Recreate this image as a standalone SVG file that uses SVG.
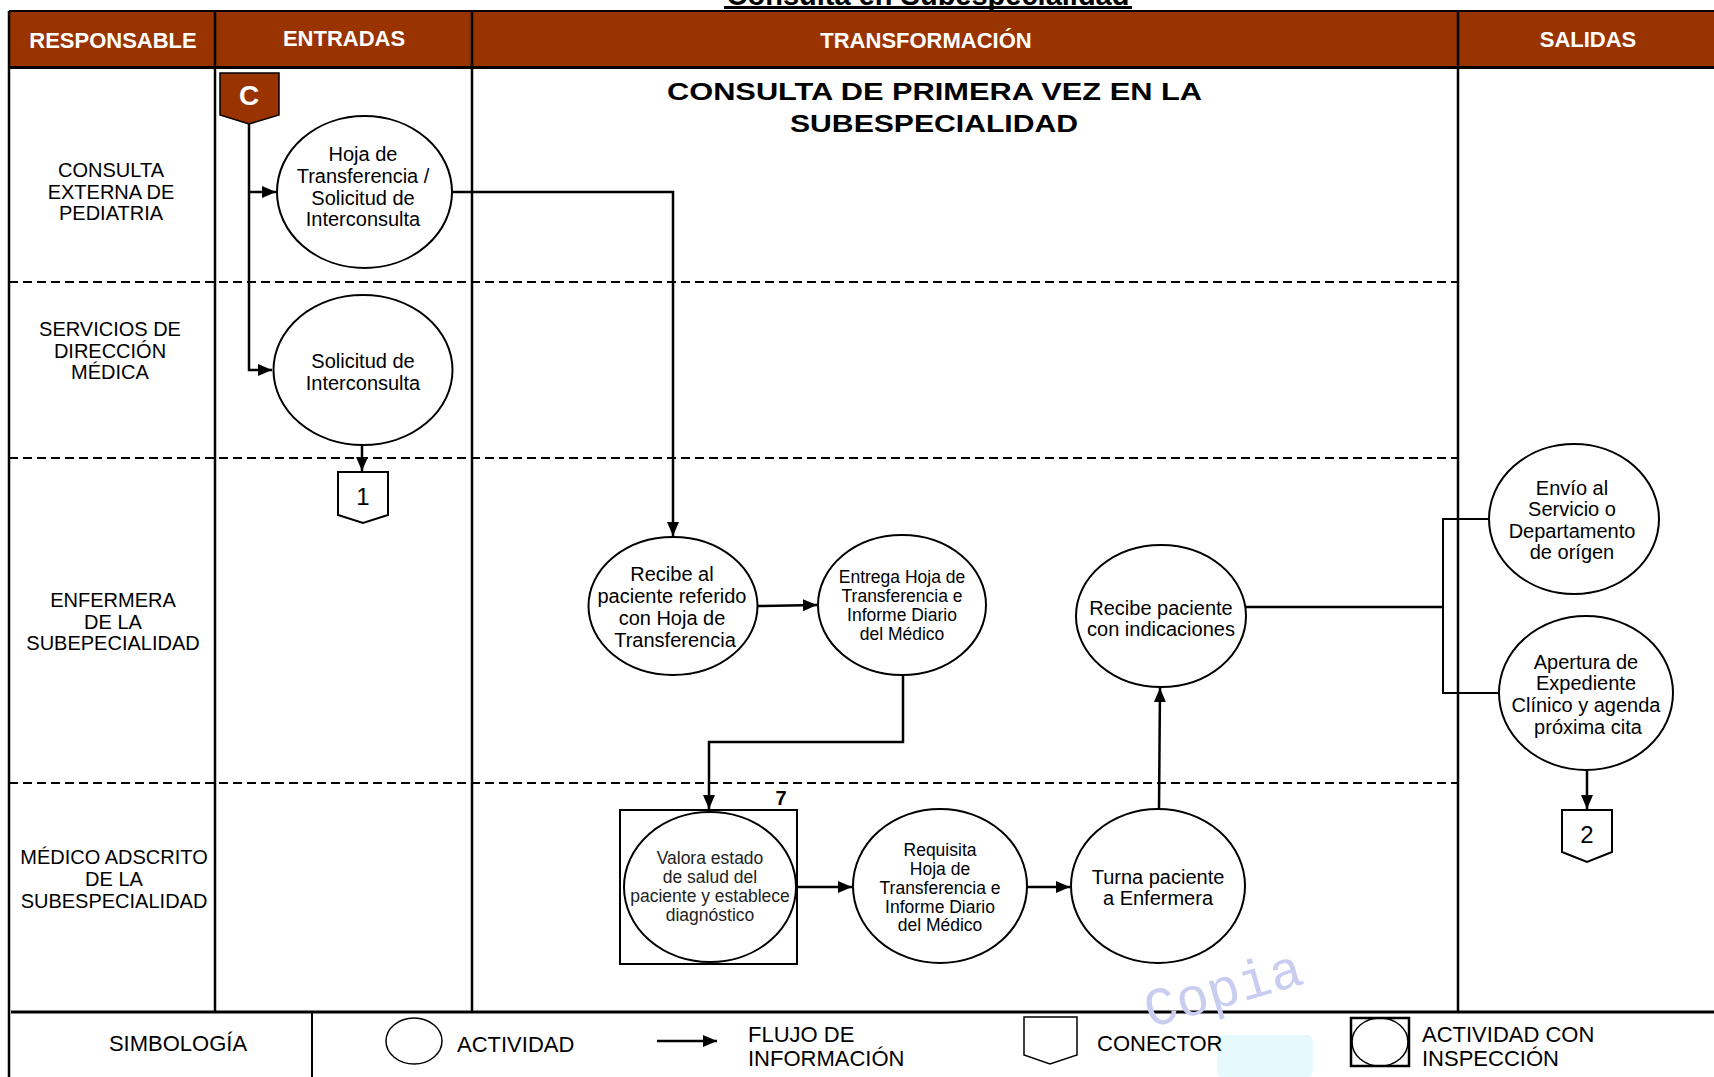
<svg xmlns="http://www.w3.org/2000/svg" width="1714" height="1077" viewBox="0 0 1714 1077">
<defs>
<marker id="arr" markerUnits="userSpaceOnUse" markerWidth="15" markerHeight="13" refX="14" refY="6" orient="auto">
<path d="M0,0 L14,6 L0,12 z" fill="#000"/>
</marker>
<style>
text{font-family:"Liberation Sans",Arial,sans-serif;fill:#000}
.hd{font-size:22px;font-weight:bold;fill:#fff;text-anchor:middle}
.lane{font-size:20px;text-anchor:middle}
.t20{font-size:20px;text-anchor:middle}
.t17{font-size:17.5px;text-anchor:middle}
.node{fill:#fff;stroke:#000;stroke-width:2}
.grid{stroke:#000;stroke-width:2.5;fill:none}
.dash{stroke:#000;stroke-width:2;stroke-dasharray:9,5;fill:none}
.conn{stroke:#000;stroke-width:2.5;fill:none}
.thin{stroke:#000;stroke-width:2;fill:none}
.leg{font-size:22px}
.wm{font-family:"Liberation Mono","Courier New",monospace;font-size:54px;fill:#c9cdf0}
</style>
</defs>
<rect width="1714" height="1077" fill="#fff"/>

<g id="page-title">
<text x="928" y="5" font-size="29" font-weight="bold" text-anchor="middle">Consulta en Subespecialidad</text>
<rect x="724" y="6" width="408" height="3" fill="#000"/>
</g>

<g id="frame">
<rect x="9" y="11" width="1705" height="57" fill="#993300"/>
<line x1="9" y1="11" x2="1714" y2="11" stroke="#000" stroke-width="2"/>
<line x1="9" y1="67.5" x2="1714" y2="67.5" stroke="#000" stroke-width="3"/>
<line x1="9" y1="11" x2="9" y2="1077" class="grid" stroke-width="3"/>
<line x1="215" y1="11" x2="215" y2="1012" class="grid"/>
<line x1="472" y1="11" x2="472" y2="1012" class="grid"/>
<line x1="1458" y1="11" x2="1458" y2="1012" class="grid"/>
<line x1="9" y1="282" x2="1458" y2="282" class="dash"/>
<line x1="9" y1="458" x2="1458" y2="458" class="dash"/>
<line x1="9" y1="783" x2="1458" y2="783" class="dash"/>
<line x1="11" y1="1012" x2="1714" y2="1012" stroke="#000" stroke-width="3"/>
<line x1="312" y1="1012" x2="312" y2="1077" class="thin"/>
<text class="hd" x="113" y="48">RESPONSABLE</text>
<text class="hd" x="344" y="46">ENTRADAS</text>
<text class="hd" x="926" y="48">TRANSFORMACIÓN</text>
<text class="hd" x="1588" y="47">SALIDAS</text>
</g>

<g id="lanes">
<text class="lane" x="111" y="177">CONSULTA</text>
<text class="lane" x="111" y="199">EXTERNA DE</text>
<text class="lane" x="111" y="220">PEDIATRIA</text>
<text class="lane" x="110" y="336">SERVICIOS DE</text>
<text class="lane" x="110" y="358">DIRECCIÓN</text>
<text class="lane" x="110" y="379">MÉDICA</text>
<text class="lane" x="113" y="607">ENFERMERA</text>
<text class="lane" x="113" y="629">DE LA</text>
<text class="lane" x="113" y="650">SUBEPECIALIDAD</text>
<text class="lane" x="114" y="864">MÉDICO ADSCRITO</text>
<text class="lane" x="114" y="886">DE LA</text>
<text class="lane" x="114" y="908">SUBESPECIALIDAD</text>
</g>

<g id="diagram-title">
<text x="667" y="100" font-size="24.5" font-weight="bold" textLength="535" lengthAdjust="spacingAndGlyphs">CONSULTA DE PRIMERA VEZ EN LA</text>
<text x="790" y="132" font-size="24.5" font-weight="bold" textLength="288" lengthAdjust="spacingAndGlyphs">SUBESPECIALIDAD</text>
</g>

<g id="watermark">
<rect x="1217" y="1035" width="96" height="42" rx="6" fill="#e6fafe"/>
<text class="wm" x="1150" y="1028" transform="rotate(-16 1150 1028)">Copia</text>
</g>

<g id="connectors">
<path class="conn" d="M249,124 V370 H272" marker-end="url(#arr)"/>
<path class="conn" d="M249,192 H276" marker-end="url(#arr)"/>
<path class="conn" d="M452,192 H673 V536" marker-end="url(#arr)"/>
<path class="conn" d="M362,445 V471" marker-end="url(#arr)"/>
<path class="conn" d="M758,606 L817,605" marker-end="url(#arr)"/>
<path class="conn" d="M903,675 V742 H709 V809" marker-end="url(#arr)"/>
<path class="conn" d="M797,887 H852" marker-end="url(#arr)"/>
<path class="conn" d="M1026,887 H1070" marker-end="url(#arr)"/>
<path class="conn" d="M1159,809 L1160,688" marker-end="url(#arr)"/>
<path class="conn" d="M1246,607 H1443"/>
<path class="thin" d="M1489,519 H1443 V693 H1499"/>
<path class="conn" d="M1587,771 V809" marker-end="url(#arr)"/>
</g>

<g id="conn-C">
<polygon points="220,73 279,73 279,115 249,124 220,115" fill="#993300" stroke="#000" stroke-width="1.5"/>
<text x="249" y="105" font-size="28" font-weight="bold" text-anchor="middle" style="fill:#fff">C</text>
</g>

<g id="n-hoja">
<ellipse class="node" cx="364.5" cy="192" rx="87.5" ry="76"/>
<text class="t20" x="363" y="161">Hoja de</text>
<text class="t20" x="363" y="183">Transferencia /</text>
<text class="t20" x="363" y="205">Solicitud de</text>
<text class="t20" x="363" y="226">Interconsulta</text>
</g>

<g id="n-solicitud">
<ellipse class="node" cx="363" cy="370" rx="89.5" ry="75"/>
<text class="t20" x="363" y="368">Solicitud de</text>
<text class="t20" x="363" y="390">Interconsulta</text>
</g>

<g id="conn-1">
<polygon points="338,472 388,472 388,515 363,523 338,515" fill="#fff" stroke="#000" stroke-width="2"/>
<text x="363" y="505" font-size="24" text-anchor="middle">1</text>
</g>

<g id="n-recibe">
<ellipse class="node" cx="673" cy="606" rx="84.5" ry="69"/>
<text class="t20" x="672" y="581">Recibe al</text>
<text class="t20" x="672" y="603">paciente referido</text>
<text class="t20" x="672" y="625">con Hoja de</text>
<text class="t20" x="675" y="647">Transferencia</text>
</g>

<g id="n-entrega">
<ellipse class="node" cx="902" cy="605" rx="84" ry="70"/>
<text class="t17" x="902" y="583">Entrega Hoja de</text>
<text class="t17" x="902" y="602">Transferencia e</text>
<text class="t17" x="902" y="621">Informe Diario</text>
<text class="t17" x="902" y="640">del Médico</text>
</g>

<g id="n-recibe-paciente">
<ellipse class="node" cx="1161" cy="616" rx="85" ry="71"/>
<text class="t20" x="1161" y="615">Recibe paciente</text>
<text class="t20" x="1161" y="636">con indicaciones</text>
</g>

<g id="n-envio">
<ellipse class="node" cx="1574" cy="519" rx="85" ry="75"/>
<text class="t20" x="1572" y="495">Envío al</text>
<text class="t20" x="1572" y="516">Servicio o</text>
<text class="t20" x="1572" y="538">Departamento</text>
<text class="t20" x="1572" y="559">de orígen</text>
</g>

<g id="n-apertura">
<ellipse class="node" cx="1586" cy="693" rx="87" ry="77"/>
<text class="t20" x="1586" y="669">Apertura de</text>
<text class="t20" x="1586" y="690">Expediente</text>
<text class="t20" x="1586" y="712">Clínico y agenda</text>
<text class="t20" x="1588" y="734">próxima cita</text>
</g>

<g id="conn-2">
<polygon points="1562,810 1612,810 1612,852 1587,862 1562,852" fill="#fff" stroke="#000" stroke-width="2"/>
<text x="1587" y="843" font-size="24" text-anchor="middle">2</text>
</g>

<g id="n-valora">
<rect x="620" y="810" width="177" height="154" fill="#fff" stroke="#000" stroke-width="2"/>
<ellipse class="node" cx="710" cy="887" rx="86" ry="75"/>
<text x="710" y="864" font-size="17.5" text-anchor="middle" style="fill:#222">Valora estado</text>
<text x="710" y="883" font-size="17.5" text-anchor="middle" style="fill:#222">de salud del</text>
<text x="710" y="902" font-size="17.5" text-anchor="middle" style="fill:#222">paciente y establece</text>
<text x="710" y="921" font-size="17.5" text-anchor="middle" style="fill:#222">diagnóstico</text>
<text x="781" y="805" font-size="20" font-weight="bold" text-anchor="middle">7</text>
</g>

<g id="n-requisita">
<ellipse class="node" cx="940" cy="886" rx="87" ry="77"/>
<text class="t17" x="940" y="856">Requisita</text>
<text class="t17" x="940" y="875">Hoja de</text>
<text class="t17" x="940" y="894">Transferencia e</text>
<text class="t17" x="940" y="913">Informe Diario</text>
<text class="t17" x="940" y="931">del Médico</text>
</g>

<g id="n-turna">
<ellipse class="node" cx="1158" cy="886" rx="87" ry="77"/>
<text class="t20" x="1158" y="884">Turna paciente</text>
<text class="t20" x="1158" y="905">a Enfermera</text>
</g>

<g id="legend">
<text class="leg" x="178" y="1051" text-anchor="middle">SIMBOLOGÍA</text>
<ellipse cx="414" cy="1041" rx="28" ry="23" fill="#fff" stroke="#000" stroke-width="1.5"/>
<text class="leg" x="457" y="1052">ACTIVIDAD</text>
<path class="conn" d="M657,1041 H717" marker-end="url(#arr)"/>
<text class="leg" x="748" y="1042">FLUJO DE</text>
<text class="leg" x="748" y="1066">INFORMACIÓN</text>
<polygon points="1024,1017 1077,1017 1077,1055 1050,1064 1024,1055" fill="#fff" stroke="#000" stroke-width="1.5"/>
<text class="leg" x="1097" y="1051">CONECTOR</text>
<rect x="1351" y="1018" width="58" height="48" fill="none" stroke="#000" stroke-width="2.5"/>
<ellipse cx="1380" cy="1042" rx="28" ry="24" fill="none" stroke="#000" stroke-width="1.5"/>
<text class="leg" x="1422" y="1042">ACTIVIDAD CON</text>
<text class="leg" x="1422" y="1066">INSPECCIÓN</text>
</g>
</svg>
